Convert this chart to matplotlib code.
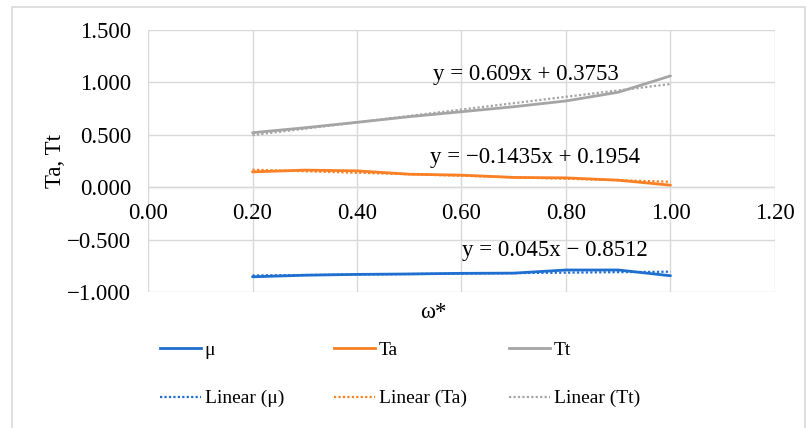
import numpy as np
import matplotlib
matplotlib.use("Agg")
import matplotlib.pyplot as plt
from matplotlib.lines import Line2D
from matplotlib.patches import Rectangle
from matplotlib.transforms import offset_copy

plt.rcParams['font.family'] = ['Liberation Serif', 'DejaVu Serif']

# data
omega = [0.2, 0.3, 0.4, 0.5, 0.6, 0.7, 0.8, 0.9, 1.0]
mu = [-0.855, -0.840, -0.832, -0.828, -0.822, -0.820, -0.790, -0.790, -0.845]
ta = [0.146, 0.163, 0.156, 0.124, 0.115, 0.093, 0.089, 0.067, 0.019]
tt = [0.520, 0.567, 0.619, 0.673, 0.720, 0.768, 0.823, 0.906, 1.062]

# trendline coefficients (slope, intercept) as printed on the chart
fit_mu = (0.045, -0.8512)
fit_ta = (-0.1435, 0.1954)
fit_tt = (0.609, 0.3753)
eq_labels = ['y = 0.045x \u2212 0.8512', 'y = \u22120.1435x + 0.1954', 'y = 0.609x + 0.3753']

x_ticks = [0.0, 0.2, 0.4, 0.6, 0.8, 1.0, 1.2]
y_ticks = [-1.0, -0.5, 0.0, 0.5, 1.0, 1.5]

c_mu = '#1F6FD1'
c_ta = '#F98025'
c_tt = '#A5A5A5'
grid_c = '#D9D9D9'
fs = 16.5
fs_leg = 14

fig = plt.figure(figsize=(8.06, 4.28), dpi=100)
ax = fig.add_axes([148 / 806, 1 - 292 / 428, (775 - 148) / 806, (292 - 30) / 428])

x = np.array(omega)
series = [(mu, fit_mu, c_mu, '\u03bc'), (ta, fit_ta, c_ta, 'Ta'), (tt, fit_tt, c_tt, 'Tt')]
handles = []
for vals, fit, col, name in series:
    ax.plot(x, vals, color=col, lw=2.0, solid_capstyle='round', zorder=3)
    ax.plot(x, fit[0] * x + fit[1], color=col, lw=1.6, ls=(0, (1, 1)), zorder=4)
    handles.append((Line2D([], [], color=col, lw=2.0), name,
                    Line2D([], [], color=col, lw=1.6, ls=(0, (1, 1))), f'Linear ({name})'))

ax.set_xlim(0, 1.2)
ax.set_ylim(-1.0, 1.5)
ax.set_xticks(x_ticks)
ax.set_yticks(y_ticks)
ax.set_xticklabels([])
ax.set_yticklabels([f'{v:.3f}'.replace('-', '\u2212') for v in y_ticks])
ax.grid(True, color=grid_c, lw=1.0, zorder=0)
ax.set_axisbelow(True)
for s in ax.spines.values():
    s.set_visible(False)
ax.axhline(0, color=grid_c, lw=1.0, zorder=1)
ax.tick_params(length=0, labelsize=fs, pad=12)

# x tick labels sit just under the zero line (axis crosses at y = 0)
for v in x_ticks:
    ax.text(v, 0, f'{v:.2f}', transform=offset_copy(ax.transData, fig=fig, y=-16, units='dots'),
            ha='center', va='top', fontsize=fs)

ax.set_xlabel('\u03c9*', fontsize=fs, labelpad=4)
ax.xaxis.set_label_coords(0.455, -0.04)
ax.set_ylabel('Ta, Tt', fontsize=fs, labelpad=1)

# trendline equations
ax.text(0.601, -0.603, eq_labels[0], fontsize=fs, va='center')
ax.text(0.539, 0.287, eq_labels[1], fontsize=fs, va='center')
ax.text(0.545, 1.072, eq_labels[2], fontsize=fs, va='center')

# legend: three columns, solid line on top row, trendline below
col_x = [160 / 806, 334 / 806, 509 / 806]
for (h1, l1, h2, l2), cx in zip(handles, col_x):
    fig.legend([h1, h2], [l1, l2], loc='upper left', bbox_to_anchor=(cx, 1 - 341 / 428),
               frameon=False, fontsize=fs_leg, handlelength=2.1, handletextpad=0.2,
               labelspacing=1.6, borderaxespad=0, borderpad=0)

fig.patches.append(Rectangle((12 / 806, -0.01), (805 - 12) / 806, 1 - 7 / 428 + 0.01,
                             transform=fig.transFigure, fill=False, ec='#D9D9D9', lw=1.2))

fig.savefig('out.png', dpi=100)
